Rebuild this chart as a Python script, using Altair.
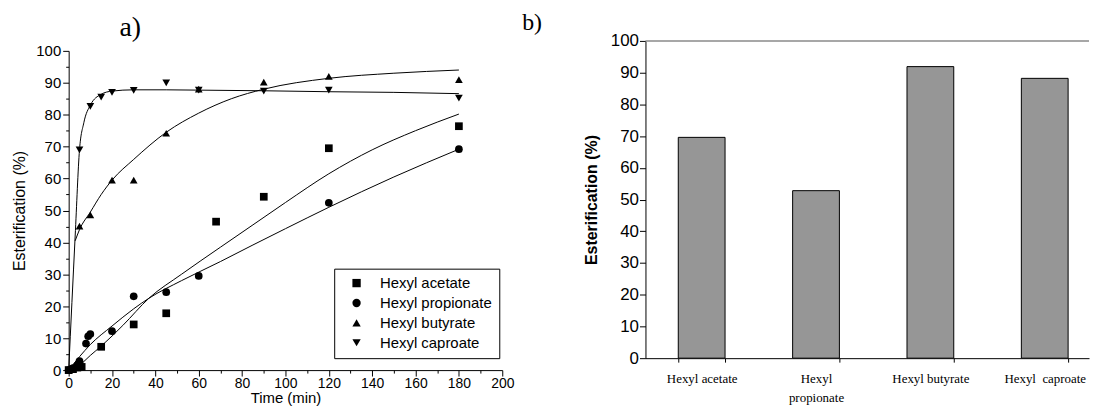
import altair as alt
import pandas as pd

SERIES = ["Hexyl acetate", "Hexyl propionate", "Hexyl butyrate", "Hexyl caproate"]
SHAPES = ["square", "circle", "triangle-up", "triangle-down"]

# measured points (time in min, esterification %)
t_acetate = [0, 2, 4, 5, 6, 15, 30, 45, 68, 90, 120, 180]
y_acetate = [0, 0.3, 0.8, 1.2, 1.0, 7.3, 14.3, 17.8, 46.5, 54.3, 69.5, 76.4]
t_propionate = [0, 2, 4, 5, 8, 9, 10, 20, 30, 45, 60, 120, 180]
y_propionate = [0, 0.6, 1.5, 2.8, 8.3, 10.6, 11.3, 12.2, 23.1, 24.4, 29.5, 52.4, 69.2]
t_butyrate = [0, 5, 10, 20, 30, 45, 60, 90, 120, 180]
y_butyrate = [0, 45.1, 48.6, 59.5, 59.5, 74.2, 88.0, 90.2, 92.0, 91.0]
t_caproate = [0, 5, 10, 15, 20, 30, 45, 60, 90, 120, 180]
y_caproate = [0, 69.0, 82.6, 85.5, 87.0, 87.6, 90.0, 87.7, 87.4, 87.7, 85.2]

# fitted curves
ft_acetate = [3, 10, 15, 25, 37, 52, 70, 85, 100, 120, 140, 160, 180]
fy_acetate = [0, 4.6, 7.5, 14.0, 22.5, 30.0, 38.5, 45.5, 52.5, 61.5, 69.0, 75.0, 80.2]
ft_propionate = [0, 5, 10, 20, 30, 37, 52, 70, 85, 100, 120, 150, 180]
fy_propionate = [0, 4.2, 8.0, 13.8, 19.2, 22.5, 28.0, 34.0, 39.2, 44.3, 51.0, 60.5, 69.2]
ft_butyrate = [3, 5, 10, 15, 20, 30, 45, 60, 75, 90, 120, 150, 180]
fy_butyrate = [40.5, 44.0, 49.5, 55.0, 59.5, 66.0, 74.5, 80.5, 85.0, 88.0, 91.4, 93.0, 94.0]
ft_caproate = [0, 3, 5, 7, 10, 15, 20, 30, 45, 60, 90, 120, 150, 180]
fy_caproate = [0, 42, 69, 77.5, 83, 86.4, 87.4, 87.8, 87.8, 87.7, 87.5, 87.2, 87.0, 86.6]

# panel b
BAR_CATS = ["Hexyl acetate", "Hexyl propionate", "Hexyl butyrate", "Hexyl\u00a0 caproate"]
BAR_VALUES = [69.6, 52.8, 91.9, 88.2]

pts_rows, fit_rows = [], []
for name, ts, ys in zip(SERIES, [t_acetate, t_propionate, t_butyrate, t_caproate],
                        [y_acetate, y_propionate, y_butyrate, y_caproate]):
    pts_rows += [{"t": t, "y": y, "series": name} for t, y in zip(ts, ys)]
for name, ts, ys in zip(SERIES, [ft_acetate, ft_propionate, ft_butyrate, ft_caproate],
                        [fy_acetate, fy_propionate, fy_butyrate, fy_caproate]):
    fit_rows += [{"t": t, "y": y, "series": name} for t, y in zip(ts, ys)]
pts = pd.DataFrame(pts_rows)
fit = pd.DataFrame(fit_rows)

SANS = "Liberation Sans"
SERIF = "Liberation Serif"

xa = alt.X("t:Q", scale=alt.Scale(domain=[0, 200], nice=False),
           axis=alt.Axis(values=list(range(0, 201, 10)),
                         labelExpr="datum.value % 20 == 0 ? datum.label : ''",
                         tickSize={"condition": {"test": "datum.value % 20 == 0", "value": 6}, "value": 3},
                         title="Time (min)", titleFont=SANS, titleFontSize=15, titleFontWeight="normal",
                         titlePadding=1, labelFont=SANS, labelFontSize=14, labelPadding=0,
                         labelFlush=False, labelOverlap=False))
ya = alt.Y("y:Q", scale=alt.Scale(domain=[0, 100], nice=False, range=[331, 10]),
           axis=alt.Axis(values=list(range(0, 101, 5)),
                         labelExpr="datum.value % 10 == 0 ? datum.label : ''",
                         tickSize={"condition": {"test": "datum.value % 10 == 0", "value": 6}, "value": 3},
                         title="Esterification (%)", titleFont=SANS, titleFontSize=16, titleFontWeight="normal",
                         titlePadding=8, labelFont=SANS, labelFontSize=15, labelPadding=2,
                         labelFlush=False, labelOverlap=False))

lines = alt.Chart(fit).mark_line(color="black", strokeWidth=1, interpolate="monotone").encode(
    x=xa, y=ya, detail="series:N")
points = alt.Chart(pts).mark_point(filled=True, color="black", opacity=1, size=60).encode(
    x=xa, y=ya,
    shape=alt.Shape("series:N", scale=alt.Scale(domain=SERIES, range=SHAPES),
                    legend=alt.Legend(title=None, orient="none", legendX=267, legendY=229,
                                      strokeColor="black", fillColor="white", padding=7,
                                      labelFont=SANS, labelFontSize=15, labelColor="black",
                                      symbolSize=70, symbolFillColor="black", symbolStrokeColor="black",
                                      symbolOffset=8, labelOffset=16, rowPadding=4, cornerRadius=0)),
)
a_label = alt.Chart(pd.DataFrame({"label": ["a)"]})).mark_text(
    font=SERIF, fontSize=28, align="center", baseline="alphabetic", color="black"
).encode(x=alt.value(62), y=alt.value(-5), text="label:N")
panel_a = alt.layer(lines, points, a_label).properties(width=436, height=331)

bars = pd.DataFrame({"ester": BAR_CATS, "value": BAR_VALUES})
xb = alt.X("ester:N", sort=BAR_CATS,
           scale=alt.Scale(paddingInner=0.591, paddingOuter=0.2348, align=0.611),
           axis=alt.Axis(title=None, tickBand="extent", labelAngle=0, labelFont=SERIF, labelFontSize=13,
                         labelExpr="datum.label == 'Hexyl propionate' ? ['Hexyl', 'propionate'] : datum.label",
                         labelLineHeight=20, labelBaseline="top", tickSize=4, labelPadding=10,
                         labelOverlap=False))
yb_axis = alt.Axis(values=list(range(0, 101, 10)), title="Esterification (%)",
                   titleFont=SANS, titleFontWeight="bold", titleFontSize=16, titlePadding=11,
                   labelFont=SANS, labelFontSize=17, labelPadding=1, tickSize=6,
                   labelOverlap=False, labelFlush=False)
yb_scale = alt.Scale(domain=[0, 100], nice=False)
b_bars = alt.Chart(bars).mark_bar(color="#969696", stroke="black", strokeWidth=1).encode(
    x=xb, y=alt.Y("value:Q", scale=yb_scale, axis=yb_axis))
b_top = alt.Chart(pd.DataFrame({"value": [100]})).mark_rule(color="#8a8a8a", strokeWidth=1.5).encode(
    y=alt.Y("value:Q", scale=yb_scale, axis=yb_axis))
b_label = alt.Chart(pd.DataFrame({"label": ["b)"]})).mark_text(
    font=SERIF, fontSize=24, align="center", baseline="alphabetic", color="black"
).encode(x=alt.value(-114), y=alt.value(-11), text="label:N")
panel_b = alt.layer(b_bars, b_top, b_label).properties(width=446, height=319)

chart = alt.hconcat(panel_a, panel_b, spacing=144, bounds="flush").properties(
    padding={"left": 3, "top": 2, "right": 0, "bottom": 0}
).configure_axis(
    domainColor="black", tickColor="black", labelColor="black", titleColor="black", grid=False,
    domainWidth=1, tickWidth=1
).configure_view(stroke=None)

chart.save("out.html", embed_options={"renderer": "svg", "actions": False})
